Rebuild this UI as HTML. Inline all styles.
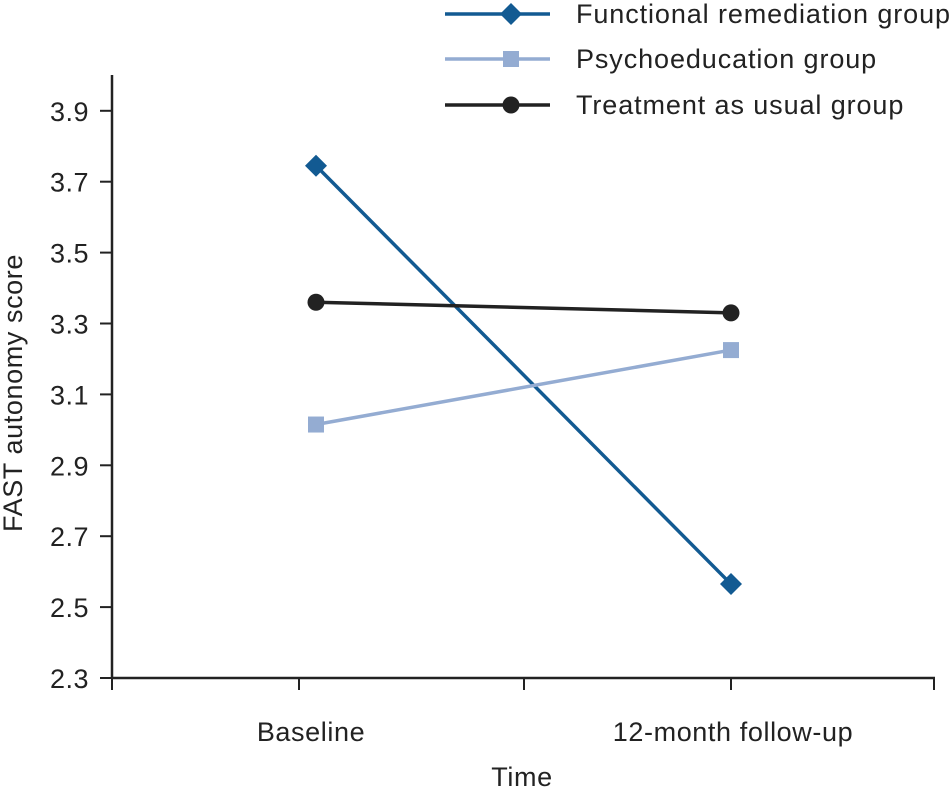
<!DOCTYPE html>
<html><head><meta charset="utf-8"><style>
body{margin:0;background:#fff}
svg{display:block;font-family:"Liberation Sans",sans-serif}
</style></head><body>
<svg id="c" width="952" height="788"></svg>
<script>
const categories=["Baseline","12-month follow-up"];
const frValues=[3.745,2.565];
const peValues=[3.015,3.225];
const tauValues=[3.36,3.33];
const yTicks=[2.3,2.5,2.7,2.9,3.1,3.3,3.5,3.7,3.9];
const seriesNames=["Functional remediation group","Psychoeducation group","Treatment as usual group"];
const NS="http://www.w3.org/2000/svg";
const svg=document.getElementById('c');
function y(v){return 678-(v-2.3)/0.2*70.9;}
function x(i){return [316,731][i];}
function mk(t,a,p){const e=document.createElementNS(NS,t);for(const k in a)e.setAttribute(k,a[k]);(p||svg).appendChild(e);return e;}
let e;
e=mk('line',{x1:112,y1:75,x2:112,y2:678,stroke:'#222','stroke-width':2.5});


e=mk('line',{x1:112,y1:678,x2:935,y2:678,stroke:'#222','stroke-width':2.5});


[112,299,524,731,934].forEach(tx=>{e=mk('line',{x1:tx,y1:678,x2:tx,y2:690,stroke:'#222','stroke-width':2});

});
yTicks.forEach(v=>{
e=mk('line',{x1:100,y1:y(v),x2:112,y2:y(v),stroke:'#222','stroke-width':2});


e=mk('text',{x:89,y:y(v)+10,'text-anchor':'end','font-size':27,fill:'#222','letter-spacing':0.5});e.textContent=v.toFixed(1);


});
categories.forEach((c,i)=>{e=mk('text',{x:[311,733][i],y:741,'text-anchor':'middle','font-size':27,fill:'#222','letter-spacing':0.6});e.textContent=c;

});
e=mk('text',{x:522,y:786,'text-anchor':'middle','font-size':27,fill:'#222','letter-spacing':0.6});e.textContent='Time';


e=mk('text',{x:0,y:0,'text-anchor':'middle','font-size':27,fill:'#222','letter-spacing':0.6,transform:'translate(22,393) rotate(-90)'});e.textContent='FAST autonomy score';


function marker(type,cx,cy,col,name){
let m;
if(type==='d')m=mk('polygon',{points:`${cx},${cy-11} ${cx+11},${cy} ${cx},${cy+11} ${cx-11},${cy}`,fill:col});
else if(type==='s')m=mk('rect',{x:cx-8,y:cy-8,width:16,height:16,fill:col});
else m=mk('circle',{cx:cx,cy:cy,r:8.5,fill:col});


}
const series=[[frValues,'#125a92','d','fr'],[peValues,'#94acd2','s','pe'],[tauValues,'#222','c','tau']];
series.forEach((s,k)=>{
const [vals,col,t,n]=s;
e=mk('line',{x1:x(0),y1:y(vals[0]),x2:x(1),y2:y(vals[1]),stroke:col,'stroke-width':3.5});


vals.forEach((v,i)=>marker(t,x(i),y(v),col,n+'-point'));
const ly=[14,59,105][k];
e=mk('line',{x1:445,y1:ly,x2:550,y2:ly,stroke:col,'stroke-width':3.5});


marker(t,511,ly,col,'legend-marker');
e=mk('text',{x:576,y:ly+9,'font-size':27,fill:'#222','letter-spacing':0.9});e.textContent=seriesNames[k];


});
</script>
</body></html>
